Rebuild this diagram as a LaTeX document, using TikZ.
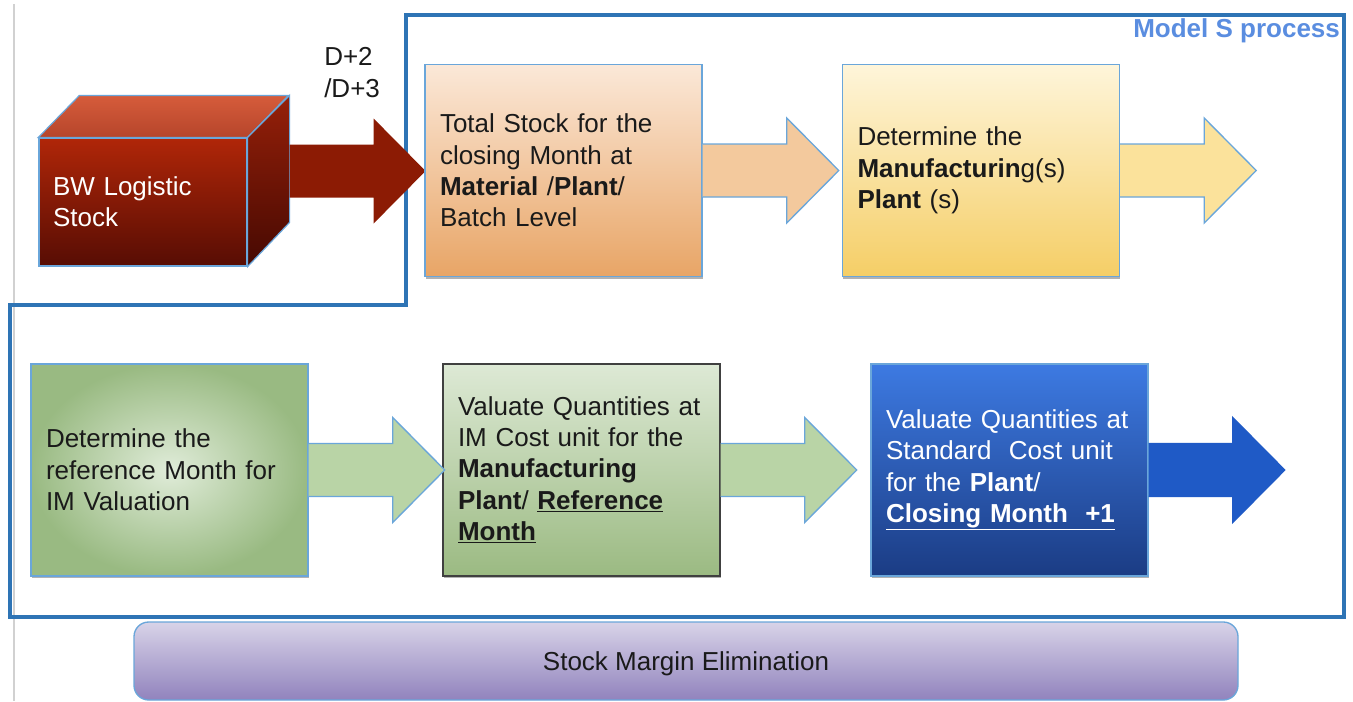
\documentclass[tikz,border=0pt]{standalone}
\usepackage{fontspec}
\setmainfont{Liberation Sans}
\usetikzlibrary{calc,shadows}
\definecolor{frameblue}{HTML}{2E74B5}
\definecolor{edgeblue}{HTML}{6AA6DA}
\definecolor{titleblue}{HTML}{5A8DE0}
\definecolor{txt}{HTML}{1A1A1A}
\definecolor{peachT}{HTML}{FBE8D8}
\definecolor{peachB}{HTML}{E8A566}
\definecolor{yelT}{HTML}{FEF5DA}
\definecolor{yelB}{HTML}{F5CE66}
\definecolor{grnIn}{HTML}{E0ECD9}
\definecolor{grnOut}{HTML}{99BA82}
\definecolor{grnT}{HTML}{DDE9D5}
\definecolor{grnB}{HTML}{9BBA82}
\definecolor{bluT}{HTML}{3D7AE2}
\definecolor{bluB}{HTML}{1B3C84}
\definecolor{purT}{HTML}{D8D3E8}
\definecolor{purB}{HTML}{9183BD}
\definecolor{redT}{HTML}{B02608}
\definecolor{redB}{HTML}{570D04}
\definecolor{redTopT}{HTML}{D65C3B}
\definecolor{redTopB}{HTML}{B6452B}
\definecolor{redSideT}{HTML}{962009}
\definecolor{redSideB}{HTML}{460902}
\definecolor{arrRed}{HTML}{8C1B04}
\definecolor{arrPeach}{HTML}{F3C99D}
\definecolor{arrYel}{HTML}{FBE29B}
\definecolor{arrGrn}{HTML}{B9D4A6}
\definecolor{arrBlu}{HTML}{1F5AC6}
\newcommand\blockarrow[2]{%
  \path[#1] ($(#2)+(0,-26.5)$) -- ++(84,0) -- ++(0,-26) -- ++(52,52.5)
    -- ++(-52,52.5) -- ++(0,-26) -- ++(-84,0);}
\begin{document}
\begin{tikzpicture}[x=0.75pt,y=-0.75pt,
  every node/.style={font=\fontsize{19.5pt}{23.5pt}\selectfont, text=txt},
  shade/.style={drop shadow={shadow xshift=0.6pt,shadow yshift=-1.6pt,opacity=0.3,fill=black}},
  stepbox/.style={rectangle, draw=edgeblue, line width=1.1pt, minimum height=159pt,
    inner xsep=11.25pt, text width=185.25pt, align=left, shade},
  fat/.style={draw=edgeblue, line width=1pt, line join=miter},
]
\useasboundingbox (0,0) rectangle (1353,701);
\fill[white] (0,0) rectangle (1353,701);

% faint left guide line
\draw[black!18, line width=1.3pt] (14,4) -- (14,701);

% Model S process title and frame
\node (title) [anchor=west, inner sep=0pt, text=titleblue, font=\fontsize{19.5pt}{23.5pt}\selectfont\bfseries] at (1133,31) {Model S process};
\draw[frameblue, line width=2.3pt, line join=miter] (406,15) -- (1344,15) -- (1344,617) -- (10,617) -- (10,305) -- (406,305) -- cycle;

% BW cube
\node (bw) [rectangle, draw=edgeblue, line width=0.9pt, minimum width=156pt, minimum height=96pt,
  top color=redT, bottom color=redB, inner xsep=10.5pt, text width=135pt, align=left, text=white]
  at (143,202) {BW Logistic\\Stock};
\path[draw=edgeblue, line width=0.9pt, top color=redTopT, bottom color=redTopB]
  (bw.north west) -- ++(41,-42) -- ++(209,0) -- (bw.north east) -- cycle;
\path[draw=edgeblue, line width=0.9pt, top color=redSideT, bottom color=redSideB]
  (bw.north east) -- ++(42,-42) -- ++(0,127) -- (bw.south east) -- cycle;
\coordinate (bwout) at ($(bw.east)+(42,-31)$);
\blockarrow{fill=arrRed}{bwout}

% D+2 label
\node (dlabel) [anchor=west, inner sep=0pt, align=left] at (324,72.5) {D+2\\/D+3};

% Top row boxes
\node (b1) [stepbox, top color=peachT, bottom color=peachB] at (563.5,170.5)
  {Total Stock for the\\closing Month at\\\textbf{Material} /\textbf{Plant}/\\Batch Level};
\node (b2) [stepbox, top color=yelT, bottom color=yelB] at (981,170.5)
  {Determine the\\\textbf{Manufacturin}g(s)\\\textbf{Plant} (s)};

\blockarrow{fat, fill=arrPeach}{b1.east}
\blockarrow{fat, fill=arrYel}{b2.east}

% Bottom row boxes
\node (b3) [stepbox, inner color=grnIn, outer color=grnOut] at (169.5,470)
  {Determine the\\reference Month for\\IM Valuation};
\node (b4) [stepbox, draw=black!75, top color=grnT, bottom color=grnB] at (581.5,470)
  {Valuate Quantities at\\IM Cost unit for the\\\textbf{Manufacturing}\\\textbf{Plant}/ \underline{\textbf{Reference}}\\\underline{\textbf{Month}}};
\node (b5) [stepbox, top color=bluT, bottom color=bluB, text=white] at (1009.5,470)
  {Valuate Quantities at\\Standard\ \ Cost unit\\for the \textbf{Plant}/\\\underline{\textbf{Closing Month\ \ +1}}};

\blockarrow{fat, fill=arrGrn}{b3.east}
\blockarrow{fat, fill=arrGrn}{b4.east}
\blockarrow{fat, draw=arrBlu, fill=arrBlu}{b5.east}

% Stock Margin Elimination bar
\node (sme) [rectangle, rounded corners=11pt, draw=edgeblue, line width=1pt,
  top color=purT, bottom color=purB, minimum width=828pt, minimum height=58.5pt,
  text depth=0pt]
  at (686,661) {Stock Margin Elimination};
\end{tikzpicture}
\end{document}
